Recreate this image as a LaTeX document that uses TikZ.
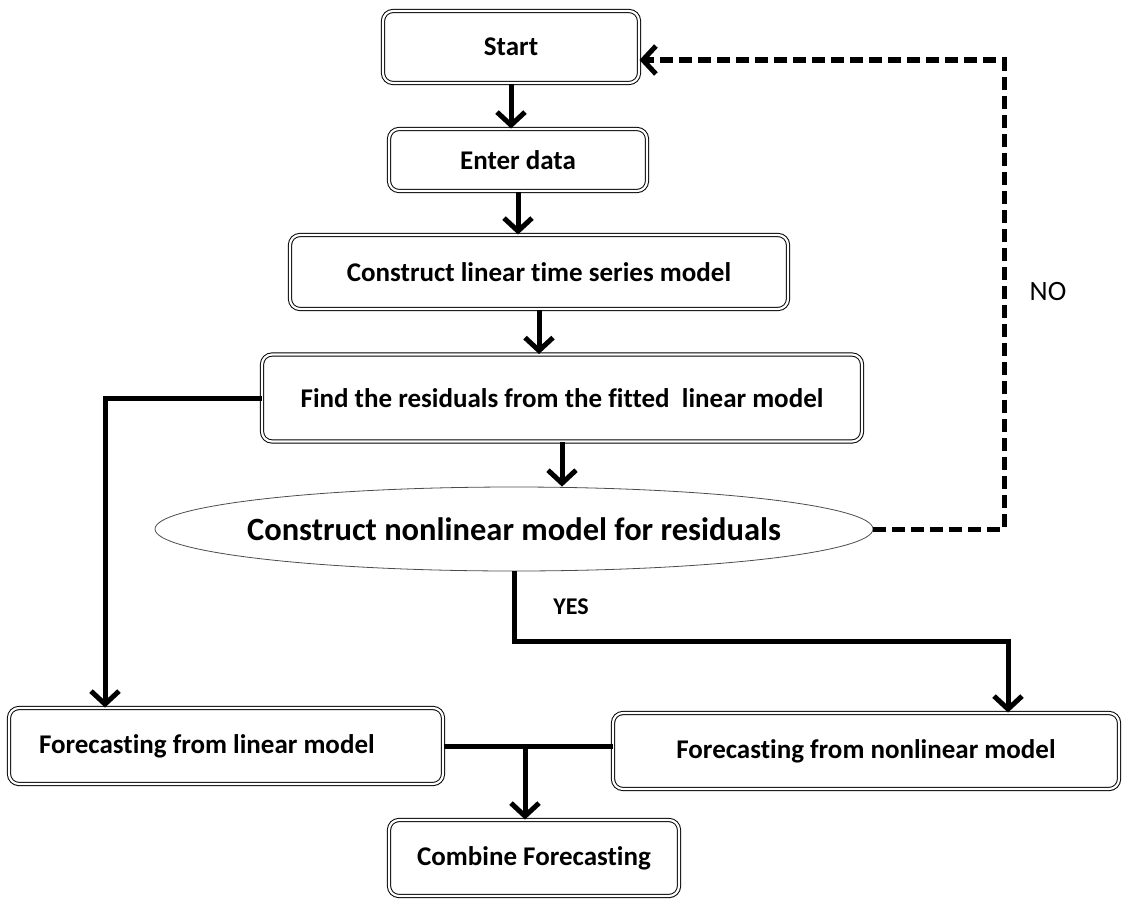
\documentclass[tikz,border=0pt]{standalone}
\usepackage{fontspec}
\setmainfont{Carlito}[Ligatures=NoCommon]
\usetikzlibrary{shapes.geometric,arrows.meta,positioning,calc}

\begin{document}
\begin{tikzpicture}[x=1pt,y=-1pt,
    box/.style={draw,rounded corners=10pt,double,double distance=2.2pt,line width=1pt,
      font=\fontsize{27}{32}\selectfont\bfseries,align=center,inner sep=0pt},
    decision/.style={ellipse,draw=black!70,line width=0.8pt,inner sep=0pt,
      font=\fontsize{32.5}{38}\selectfont\bfseries},
    arr/.style={line width=5pt,-{Straight Barb[length=13pt,width=28pt]}},
    dasharr/.style={arr,dash pattern=on 13pt off 6pt},
    flowline/.style={line width=5pt},
  ]
  \useasboundingbox (0,0) rectangle (1123,899);
  % boxes
  \node[box,minimum width=256pt,minimum height=72pt] (start) at (511,47) {Start};
  \node[box,minimum width=258pt,minimum height=62pt] (enter) at (518,160) {Enter data};
  \node[box,minimum width=498pt,minimum height=74pt] (linear) at (539,272) {Construct linear time series model};
  \node[box,minimum width=600pt,minimum height=87pt] (resid) at (562,398) {Find the residuals from the fitted\ \ linear model};
  \node[decision,minimum width=718pt,minimum height=84pt] (nonlin) at (514,529) {\makebox[0pt]{Construct nonlinear model for residuals}};
  \node[box,minimum width=434pt,minimum height=76pt] (flin) at (226,746) {\makebox[374pt][l]{Forecasting from linear model}};
  \node[box,minimum width=506pt,minimum height=76pt] (fnon) at (866,751) {Forecasting from nonlinear model};
  \node[box,minimum width=290pt,minimum height=76pt] (comb) at (534,858) {Combine Forecasting};
  % labels
  \node[font=\fontsize{24}{26}\selectfont\bfseries] (yes) at (571,607) {YES};
  \node[font=\fontsize{28}{30}\selectfont] (no) at (1048,292) {NO};

  \draw[arr] (start.south) -- (start.south |- enter.north);
  \draw[arr] (enter.south) -- (enter.south |- linear.north);
  \draw[arr] (linear.south) -- (linear.south |- resid.north);
  \draw[arr] (resid.south) -- (resid.south |- nonlin.north);
  \draw[arr] (resid.west) -| ([xshift=-121pt]flin.north);
  \draw[arr] (nonlin.south) -- ++(0,70) -| ([xshift=142pt]fnon.north);
  \draw[dasharr] (nonlin.east) -- ++(131,0) |- ([yshift=-13pt]start.east);
  \draw[flowline] (flin.east) -- (flin.east -| fnon.west);
  \draw[arr] ([xshift=-9pt]comb.north |- flin.east) -- ([xshift=-9pt]comb.north);
\end{tikzpicture}
\end{document}
